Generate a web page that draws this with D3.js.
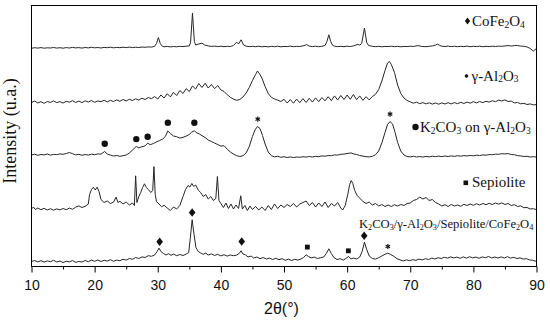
<!DOCTYPE html>
<html><head><meta charset="utf-8">
<script src="https://cdn.jsdelivr.net/npm/d3@7"></script>
<style>body{margin:0;background:#fff} svg{display:block}</style>
</head><body><svg id="c" width="550" height="325"></svg>
<script>
// ---------------- DATA ----------------
const xTicks = [10,20,30,40,50,60,70,80,90];
const xMinorTicks = [15,25,35,45,55,65,75,85];
const xTitle = "2θ(°)";
const yTitle = "Intensity (u.a.)";

// vertical stacking offsets (u.a.) for each pattern, bottom to top
const seriesOffsets = { composite: 0, sepiolite: 52, k2co3: 105, alumina: 158, cofe2o4: 212 };

// [2θ, intensity] pairs
const cofe2o4 = [[10,6.2],[10.5,6.8],[11,6.4],[11.5,6.9],[12,6.3],[12.5,6.7],[13,6.5],[13.5,7.0],[14,6.4],[14.5,6.8],[15,6.3],[15.5,6.9],[16,6.5],[16.5,7.1],[17,6.6],[17.5,6.9],[18,6.4],[18.5,7.0],[19,6.6],[19.5,7.2],[20,6.7],[20.5,7.0],[21,6.5],[21.5,7.1],[22,6.8],[22.5,7.3],[23,6.7],[23.5,7.1],[24,6.8],[24.5,7.3],[25,6.9],[25.5,7.4],[26,6.9],[26.5,7.3],[27,7.0],[27.5,7.5],[28,7.2],[28.5,7.6],[29,7.4],[29.5,8.2],[29.8,11],[30.1,17],[30.4,11],[30.7,8.4],[31,7.7],[31.5,8.1],[32,7.6],[32.5,8.0],[33,7.7],[33.5,8.2],[34,7.9],[34.5,8.3],[35,8.6],[35.2,12],[35.5,41.4],[35.8,13],[36,9.5],[36.5,10.5],[37,11.4],[37.4,9.6],[38,8.6],[38.5,8.1],[39,8.4],[39.5,7.9],[40,8.3],[40.5,7.8],[41,8.2],[41.5,8.0],[42,9.0],[42.5,12.4],[42.8,10.5],[43.2,14.7],[43.6,9.5],[44,8.3],[44.5,7.9],[45,8.2],[45.5,7.8],[46,8.3],[46.5,7.7],[47,8.1],[47.5,7.6],[48,8.2],[48.5,7.8],[49,8.3],[49.5,7.7],[50,8.1],[50.5,7.9],[51,8.4],[51.5,7.8],[52,8.2],[52.5,8.0],[53,8.6],[53.6,9.9],[54,8.4],[54.5,7.9],[55,8.3],[55.5,7.8],[56,8.2],[56.5,9.0],[56.8,13],[57.1,19.7],[57.4,13],[57.7,9.2],[58,8.3],[58.5,7.9],[59,8.2],[59.5,7.8],[60,8.3],[60.5,8.0],[61,8.6],[61.4,9.4],[61.7,10.2],[62,9.4],[62.3,11],[62.75,26.4],[63.1,12],[63.4,9],[64,8.2],[64.5,7.8],[65,8.2],[65.5,7.7],[66,8.1],[66.5,7.9],[67,8.3],[67.5,7.8],[68,8.2],[68.5,7.7],[69,8.1],[69.5,7.9],[70,8.3],[70.5,8.0],[71.2,8.9],[71.8,8.1],[72.5,7.8],[73,8.2],[73.5,8.6],[74,9.4],[74.3,10.4],[74.7,9],[75,8.3],[75.5,8.0],[76,8.4],[76.5,7.9],[77,8.3],[77.5,7.8],[78,8.2],[78.5,7.9],[79,8.4],[79.5,7.8],[80,8.2],[80.5,7.9],[81,8.3],[81.5,7.8],[82,8.2],[82.5,7.9],[83,8.3],[83.5,8.0],[84,8.4],[84.5,8.2],[85,8.6],[85.5,8.9],[86,8.5],[86.5,8.9],[87,9.0],[87.5,8.4],[88,8.2],[88.5,7.6],[89,6.0],[89.5,3.5],[90,6.0]];

const alumina = [[10,6.0],[10.5,7.5],[11,5.5],[11.5,6.8],[12,5.2],[12.5,7.0],[13,6.1],[13.5,7.6],[14,5.8],[14.5,6.9],[15,5.4],[15.5,7.2],[16,6.3],[16.5,7.8],[17,6.0],[17.5,7.4],[18,5.9],[18.5,7.7],[19,6.5],[19.5,8.0],[20,6.2],[20.5,7.6],[21,6.8],[21.5,8.3],[22,6.6],[22.5,8.1],[23,7.0],[23.5,8.6],[24,7.2],[24.5,9.0],[25,7.6],[25.5,9.2],[26,8.0],[26.5,9.7],[27,8.4],[27.5,10.3],[28,9.0],[28.5,11.0],[29,9.8],[29.5,11.9],[30,9.5],[30.5,13.5],[31,10.5],[31.5,14.8],[32,11.6],[32.5,16.2],[33,13.0],[33.5,18.0],[34,15.0],[34.5,19.8],[35,17.0],[35.5,22.5],[36,19.5],[36.5,25.0],[37,21.0],[37.5,25.2],[38,20.5],[38.5,24.0],[39,19.8],[39.5,23.0],[40,18.6],[40.5,17.0],[41,13.8],[41.5,11.2],[42,9.4],[42.5,8.2],[43,9.0],[43.5,11.5],[44,15.5],[44.5,21.0],[45,28.0],[45.5,34.0],[45.8,37.5],[46.1,35.0],[46.5,30.5],[47,22.0],[47.5,15.0],[48,11.2],[48.5,9.5],[49,8.4],[49.5,7.0],[50,9.2],[50.5,5.5],[51,8.9],[51.5,5.3],[52,9.4],[52.5,5.8],[53,9.9],[53.5,6.0],[54,10.2],[54.5,6.4],[55,10.6],[55.5,6.8],[56,11.0],[56.5,7.6],[57,11.8],[57.5,8.0],[58,12.6],[58.5,8.5],[59,13.0],[59.5,9.0],[60,13.5],[60.5,9.2],[61,14.0],[61.5,8.8],[62,12.6],[62.5,8.2],[63,11.8],[63.5,8.6],[64,12.0],[64.5,14.2],[65,19.0],[65.5,27.5],[66,38.0],[66.4,45.5],[66.7,47.0],[67,44.0],[67.5,36.0],[68,23.5],[68.5,15.0],[69,10.5],[69.5,8.0],[70,6.6],[70.5,5.3],[71,6.4],[71.5,4.8],[72,5.9],[72.5,4.6],[73,5.7],[73.5,4.4],[74,5.5],[74.5,4.3],[75,5.6],[75.5,4.5],[76,5.8],[76.5,4.6],[77,5.9],[77.5,4.8],[78,6.2],[78.5,5.0],[79,6.4],[79.5,5.3],[80,6.8],[80.5,5.6],[81,7.0],[81.5,5.9],[82,7.2],[82.5,6.4],[83,7.8],[83.5,6.8],[84,8.4],[84.5,7.6],[85,8.6],[85.5,7.0],[86,7.4],[86.5,5.6],[87,6.0],[87.5,4.7],[88,5.2],[88.5,4.0],[89,4.6],[89.5,3.6],[90,3.9]];

const k2co3 = [[10,6.5],[10.5,7.3],[11,6.2],[11.5,7.0],[12,6.6],[12.5,7.5],[13,6.3],[13.5,7.1],[14,6.8],[14.5,7.6],[15,7.2],[15.5,8.0],[16,9.0],[16.5,7.8],[17,6.6],[17.5,7.2],[18,6.2],[18.5,7.0],[19,6.4],[19.5,7.3],[20,6.8],[20.5,7.6],[21,7.4],[21.6,10.0],[22,7.5],[22.5,6.4],[23,5.5],[23.5,6.0],[24,5.2],[24.5,5.8],[25,6.5],[25.5,8.5],[26,11.5],[26.6,15.0],[27,13.6],[27.5,14.8],[28,15.6],[28.4,18.4],[28.8,16.8],[29.3,18.0],[29.8,19.6],[30.3,21.0],[30.8,22.5],[31.2,25.0],[31.6,30.5],[32,28.0],[32.5,25.5],[33,24.8],[33.5,23.4],[34,24.2],[34.5,25.4],[35,27.0],[35.4,29.5],[35.8,30.7],[36.2,28.6],[36.6,27.5],[37,25.8],[37.5,24.0],[38,21.5],[38.5,20.0],[39,18.4],[39.5,17.0],[40,15.4],[40.5,15.8],[41,12.4],[41.5,9.5],[42,7.4],[42.5,5.8],[43,5.0],[43.5,5.8],[44,8.5],[44.5,15.0],[45,25.0],[45.4,31.5],[45.8,35.0],[46.2,33.0],[46.6,26.0],[47,17.5],[47.5,9.5],[48,5.8],[48.5,4.6],[49,5.2],[49.5,4.2],[50,4.8],[50.5,4.0],[51,4.6],[51.5,3.9],[52,4.5],[52.5,4.2],[53,4.8],[53.5,4.4],[54,5.0],[54.5,4.5],[55,5.2],[55.5,4.8],[56,5.6],[56.5,5.3],[57,6.0],[57.5,5.8],[58,6.6],[58.5,6.4],[59,7.2],[59.5,7.4],[60,8.0],[60.6,8.6],[61,7.6],[61.5,7.0],[62,6.0],[62.5,5.4],[63,4.8],[63.5,4.6],[64,5.2],[64.5,6.8],[65,10.5],[65.5,18.5],[66,29.0],[66.4,37.0],[66.8,40.0],[67.2,37.5],[67.6,29.0],[68,19.0],[68.5,10.5],[69,6.5],[69.5,5.0],[70,4.6],[70.5,5.2],[71,4.5],[71.5,5.0],[72,4.4],[72.5,5.1],[73,4.6],[73.5,5.3],[74,4.8],[74.5,5.4],[75,4.9],[75.5,5.5],[76,5.0],[76.5,5.6],[77,5.1],[77.5,5.8],[78,5.3],[78.5,5.9],[79,5.5],[79.5,6.1],[80,5.7],[80.5,6.3],[81,6.0],[81.5,6.6],[82,6.3],[82.5,6.9],[83,6.8],[83.5,7.4],[84,7.2],[84.5,7.8],[85,7.6],[85.5,7.9],[86,7.0],[86.5,6.8],[87,5.8],[87.5,5.6],[88,5.0],[88.5,5.2],[89,4.5],[89.5,4.8],[90,4.4]];

const sepiolite = [[10,5.5],[10.3,7.5],[10.6,5.0],[11,6.5],[11.5,4.8],[12,6.2],[12.5,4.5],[13,5.8],[13.5,4.3],[14,5.6],[14.5,4.6],[15,6.0],[15.5,4.8],[16,6.4],[16.5,5.2],[17,7.4],[17.5,8.6],[18,7.0],[18.5,8.2],[19,10.5],[19.2,20.0],[19.5,25.0],[19.8,27.2],[20.1,24.5],[20.4,27.4],[20.7,23.0],[21,15.0],[21.5,12.0],[22,13.6],[22.5,11.0],[23,12.4],[23.4,17.4],[23.7,12.0],[24,13.2],[24.5,10.5],[25,12.5],[25.5,9.5],[26,11.5],[26.3,9.0],[26.5,38.7],[26.7,12.0],[27,18.0],[27.3,22.0],[27.6,27.0],[27.9,30.7],[28.2,27.0],[28.5,25.0],[28.9,22.0],[29.2,24.0],[29.4,48.0],[29.6,20.0],[29.8,13.0],[30.2,10.5],[30.6,7.8],[31,9.2],[31.5,6.5],[32,4.0],[32.5,7.5],[33,5.5],[33.5,9.0],[34,18.0],[34.4,25.0],[34.8,29.0],[35.1,27.5],[35.4,31.0],[35.7,28.0],[36,29.5],[36.4,24.5],[36.8,22.0],[37.2,18.0],[37.6,20.0],[38,15.5],[38.4,18.0],[38.8,14.0],[39.2,16.0],[39.45,38.0],[39.7,14.0],[40,11.0],[40.4,7.0],[40.8,11.5],[41.2,6.0],[41.6,10.5],[42,5.5],[42.4,9.5],[42.8,6.0],[43.15,18.7],[43.4,5.5],[43.8,9.0],[44.2,4.0],[44.6,8.5],[45,5.0],[45.5,8.0],[46,4.5],[46.5,7.5],[47,4.0],[47.5,9.0],[48,5.0],[48.5,10.5],[49,6.0],[49.5,9.5],[50,7.0],[50.5,10.0],[51,8.0],[51.5,11.0],[52,7.5],[52.5,10.5],[53,12.0],[53.5,13.5],[54,9.0],[54.5,12.0],[55,7.5],[55.5,11.5],[56,8.0],[56.5,12.5],[57,7.0],[57.5,11.0],[58,8.5],[58.5,12.0],[59,6.5],[59.3,4.5],[59.7,9.0],[60.1,20.0],[60.4,30.0],[60.65,34.0],[60.9,31.0],[61.2,24.0],[61.6,19.0],[62,16.4],[62.5,13.0],[63,11.0],[63.5,12.5],[64,9.5],[64.5,11.0],[65,8.5],[65.5,10.0],[66,8.0],[66.5,9.5],[67,8.0],[67.5,9.8],[68,8.5],[68.5,10.0],[69,9.0],[69.5,11.0],[70,11.5],[70.5,14.0],[71,15.0],[71.5,17.4],[72,15.5],[72.5,17.0],[73,14.0],[73.5,15.0],[74,12.0],[74.5,10.5],[75,8.5],[75.5,9.8],[76,8.0],[76.5,10.0],[77,8.5],[77.5,9.5],[78,8.2],[78.5,10.2],[79,9.0],[79.5,10.5],[80,9.2],[80.5,10.8],[81,9.5],[81.5,11.0],[82,9.8],[82.5,11.2],[83,10.0],[83.5,11.5],[84,10.4],[84.5,11.6],[85,10.0],[85.5,11.0],[86,9.0],[86.5,9.8],[87,8.0],[87.5,8.6],[88,6.8],[88.5,7.0],[89,5.5],[89.5,5.8],[90,4.8]];

const composite = [[10,5.0],[10.5,6.0],[11,4.6],[11.5,5.8],[12,4.4],[12.5,5.6],[13,4.8],[13.5,6.2],[14,4.5],[14.5,5.4],[15,4.0],[15.5,5.2],[16,4.6],[16.5,5.9],[17,4.2],[17.5,5.0],[18,4.5],[18.5,6.0],[19,4.8],[19.5,6.4],[20,5.2],[20.5,6.5],[21,5.0],[21.5,6.2],[22,5.4],[22.5,6.8],[23,5.2],[23.5,6.4],[24,5.8],[24.5,7.2],[25,6.4],[25.5,8.0],[26,7.2],[26.5,9.0],[27,8.0],[27.5,9.6],[28,9.0],[28.5,10.8],[29,10.2],[29.5,11.5],[29.9,15.0],[30.2,18.4],[30.5,15.0],[30.9,13.0],[31.3,11.5],[31.7,12.8],[32.1,11.2],[32.5,12.4],[33,10.8],[33.5,12.0],[34,11.0],[34.5,12.4],[34.9,14.0],[35.15,28.0],[35.45,46.7],[35.75,32.0],[36.05,19.0],[36.4,15.0],[36.8,13.5],[37.2,12.2],[37.6,13.4],[38,11.5],[38.5,12.6],[39,11.0],[39.5,12.2],[40,10.6],[40.5,11.8],[41,10.4],[41.5,11.5],[42,10.8],[42.5,11.4],[42.9,13.0],[43.2,15.7],[43.5,12.5],[43.9,11.6],[44.3,9.5],[44.8,10.4],[45.2,8.4],[45.7,9.5],[46.2,7.8],[46.7,9.0],[47.2,7.5],[47.7,8.5],[48.2,7.0],[48.7,8.2],[49.2,6.8],[49.7,7.8],[50.2,6.2],[50.7,7.4],[51.2,6.0],[51.7,7.2],[52.2,6.4],[52.7,7.6],[53.1,9.0],[53.5,11.7],[53.9,10.0],[54.3,8.6],[54.8,9.4],[55.3,8.0],[55.8,8.8],[56.3,9.5],[56.7,13.0],[57.1,17.7],[57.5,13.0],[57.9,9.0],[58.4,7.0],[58.9,7.8],[59.4,6.4],[59.8,8.0],[60.2,10.0],[60.6,7.6],[61,8.4],[61.5,7.5],[62,9.5],[62.4,15.5],[62.75,24.4],[63.1,17.0],[63.5,10.5],[64,8.0],[64.5,7.4],[65,8.8],[65.5,10.5],[66,12.2],[66.45,13.4],[66.9,12.0],[67.4,10.2],[67.9,7.8],[68.4,6.6],[68.9,5.6],[69.4,6.6],[69.9,5.8],[70.4,6.8],[70.9,6.2],[71.4,7.4],[71.9,6.6],[72.4,7.8],[72.9,7.0],[73.4,8.4],[73.9,7.5],[74.4,8.8],[74.9,8.0],[75.4,9.2],[75.9,8.4],[76.4,9.6],[76.9,8.6],[77.4,9.4],[77.9,8.2],[78.4,9.6],[78.9,8.4],[79.4,9.8],[79.9,8.6],[80.4,9.4],[80.9,8.2],[81.4,9.6],[81.9,8.8],[82.4,10.0],[82.9,8.6],[83.4,9.5],[83.9,8.4],[84.4,9.6],[84.9,8.5],[85.4,9.8],[85.9,8.4],[86.4,9.2],[86.9,8.0],[87.4,8.6],[87.9,7.4],[88.4,7.8],[88.9,6.6],[89.4,6.2],[90,5.0]];

// phase markers: [2θ, stacked intensity]
const diamondMarks = [[30.3,24.7],[35.45,54.0],[43.3,25.0],[62.7,30.7]];
const squareMarks = [[53.7,19.4],[60.2,15.7]];
const starMarks = [[66.45,20.0],[45.85,147.4],[66.8,152.4]];
const circleMarks = [[21.6,122.7],[26.6,127.4],[28.4,129.7],[31.6,143.7],[35.8,143.7]];

const seriesLabels = ["CoFe_2O_4","γ-Al_2O_3","K_2CO_3 on γ-Al_2O_3","Sepiolite","K_2CO_3/γ-Al_2O_3/Sepiolite/CoFe_2O_4"];

// ---------------- DRAW ----------------
const svg = d3.select("#c");
const L = 31.5, R = 536.5, T = 5.5, B = 266.5;
const x = d3.scaleLinear().domain([10, 90]).range([L, R]);
const y = d3.scaleLinear().domain([0, 261]).range([B, T]);
const serif = "'Liberation Serif','Times New Roman',serif";
const sans = "'Liberation Sans',Arial,sans-serif";
const ink = "#262626";

const line = d3.line().x(d => x(d[0])).y(d => y(d[1]));
const traces = [
  [composite, seriesOffsets.composite],
  [sepiolite, seriesOffsets.sepiolite],
  [k2co3, seriesOffsets.k2co3],
  [alumina, seriesOffsets.alumina],
  [cofe2o4, seriesOffsets.cofe2o4]
];
const g = svg.append("g");
traces.forEach(([data, off]) => {
  g.append("path")
    .datum(data.map(d => [d[0], d[1] + off]))
    .attr("d", line)
    .attr("fill", "none")
    .attr("stroke", ink)
    .attr("stroke-width", 1)
    .attr("stroke-linejoin", "round");
});

// frame
svg.append("rect").attr("x", L).attr("y", T).attr("width", R - L).attr("height", B - T)
  .attr("fill", "none").attr("stroke", "#000").attr("stroke-width", 1);

// axes
const axMaj = d3.axisBottom(x).tickValues(xTicks).tickSize(6).tickPadding(8).tickFormat(d3.format("d"));
const axMin = d3.axisBottom(x).tickValues(xMinorTicks).tickSize(3).tickFormat("");
const gMaj = svg.append("g").attr("transform", `translate(0,${B})`).call(axMaj);
const gMin = svg.append("g").attr("transform", `translate(0,${B})`).call(axMin);
[gMaj, gMin].forEach(a => { a.select(".domain").remove(); a.selectAll("line").attr("stroke", "#000"); });
gMaj.selectAll("text").attr("font-family", sans).attr("font-size", 14).attr("fill", "#111");

svg.append("text").attr("x", 281.5).attr("y", 314).attr("text-anchor", "middle")
  .attr("font-family", sans).attr("font-size", 16).attr("fill", "#111").text(xTitle);
svg.append("text").attr("transform", "translate(15.5,131) rotate(-90)").attr("text-anchor", "middle")
  .attr("font-family", serif).attr("font-size", 18).attr("fill", "#111").text(yTitle);

// markers
const diamond = (cx, cy, w, h) => `M${cx},${cy - h}L${cx + w},${cy}L${cx},${cy + h}L${cx - w},${cy}Z`;
const star = (sel, cx, cy, r) => {
  for (let k = 0; k < 3; k++) {
    const a = Math.PI / 2 + k * Math.PI / 3;
    sel.append("line").attr("x1", cx - r * Math.cos(a)).attr("y1", cy - r * Math.sin(a))
      .attr("x2", cx + r * Math.cos(a)).attr("y2", cy + r * Math.sin(a))
      .attr("stroke", "#111").attr("stroke-width", 1.2);
  }
};
const mk = svg.append("g");
diamondMarks.forEach(d => mk.append("path").attr("d", diamond(x(d[0]), y(d[1]), 3.3, 4.3)).attr("fill", "#111"));
squareMarks.forEach(d => mk.append("rect").attr("x", x(d[0]) - 2.4).attr("y", y(d[1]) - 2.4).attr("width", 4.8).attr("height", 4.8).attr("fill", "#111"));
circleMarks.forEach(d => mk.append("circle").attr("cx", x(d[0])).attr("cy", y(d[1])).attr("r", 3.2).attr("fill", "#111"));
starMarks.forEach(d => star(mk, x(d[0]), y(d[1]), 2.6));

// labels with subscripts
function rich(sel, str, size, subSize) {
  const parts = str.split(/(_\d)/).filter(p => p.length);
  let lowered = false;
  parts.forEach(p => {
    if (p[0] === "_") {
      sel.append("tspan").attr("font-size", subSize).attr("dy", lowered ? 0 : 1.5).text(p.slice(1));
      lowered = true;
    } else {
      sel.append("tspan").attr("font-size", size).attr("dy", lowered ? -1.5 : 0).text(p);
      lowered = false;
    }
  });
}
function label(xp, yp, str, size, subSize) {
  const t = svg.append("text").attr("x", xp).attr("y", yp).attr("font-family", serif).attr("fill", "#111");
  rich(t, str, size, subSize);
  return t;
}
// CoFe2O4
svg.append("path").attr("d", diamond(467.5, 21, 2.6, 3.6)).attr("fill", "#111");
label(472, 26, seriesLabels[0], 15, 9.5);
// γ-Al2O3
star(svg, 466.5, 76, 1.8);
label(471.5, 80.5, seriesLabels[1], 15, 9.5);
// K2CO3 on γ-Al2O3
svg.append("circle").attr("cx", 415.5).attr("cy", 127).attr("r", 3.2).attr("fill", "#111");
label(420, 132, seriesLabels[2], 15, 9.5);
// Sepiolite
svg.append("rect").attr("x", 463.5).attr("y", 180.5).attr("width", 4.6).attr("height", 4.6).attr("fill", "#111");
label(472, 187, seriesLabels[3], 15, 9.5);
// composite
label(359, 228, seriesLabels[4], 12.6, 8.2);
</script></body></html>
